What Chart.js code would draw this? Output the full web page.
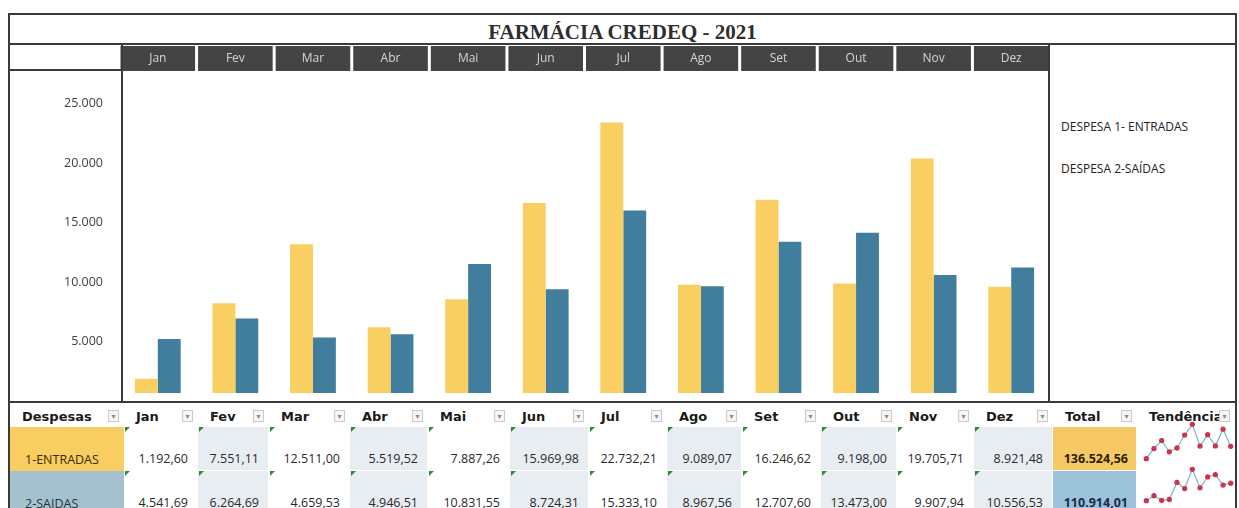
<!DOCTYPE html>
<html><head><meta charset="utf-8">
<script src="https://cdn.jsdelivr.net/npm/chart.js@4.4.1/dist/chart.umd.min.js"></script>
<style>
html,body{margin:0;padding:0;background:#fff;}
body{width:1239px;height:508px;position:relative;overflow:hidden;font-family:"Open Sans",sans-serif;}
.ln{position:absolute;background:#3a3a3a;}
#title{position:absolute;left:8px;width:1229px;top:19px;height:26px;text-align:center;font-family:"Liberation Serif","DejaVu Serif",serif;font-weight:bold;font-size:21px;color:#2e2e2e;line-height:26px;}
#main{position:absolute;left:8px;top:45px;}
.leg{position:absolute;left:1061px;font-size:12px;color:#222;line-height:16px;white-space:nowrap;}
.cell{position:absolute;box-sizing:border-box;display:flex;overflow:hidden;white-space:nowrap;}
.hd{font-family:"DejaVu Sans",sans-serif;font-weight:bold;font-size:13px;color:#1a1a1a;align-items:center;padding-left:12px;padding-top:2px;background:#fff;}
.dd{position:absolute;width:11px;height:12px;border:1px solid #c9c9c9;background:#f6f6f6;color:#888;font-size:8px;line-height:12px;text-align:center;box-sizing:border-box;font-family:"DejaVu Sans",sans-serif;}
.val{font-size:12.5px;color:#2a2a2a;align-items:flex-end;justify-content:flex-end;padding-right:9px;padding-bottom:3px;line-height:17px;border-right:1px solid #fff;border-bottom:1px solid #fff;}
.lab{font-size:12.5px;align-items:flex-end;padding-left:15px;padding-bottom:3px;line-height:17px;}
.tot{font-weight:bold;}
.tri{position:absolute;width:0;height:0;border-top:5px solid #2f8a3a;border-right:5px solid transparent;}
.spark{position:absolute;z-index:5;}
</style>
</head><body>
<div id="title">FARMÁCIA CREDEQ - 2021</div>
<canvas id="main" width="1042" height="358"></canvas>
<div id="legend"></div>
<div id="table"></div>
<canvas id="sp1" class="spark" width="95" height="45" style="left:1141px;top:419px;width:95px;height:45px;"></canvas>
<canvas id="sp2" class="spark" width="95" height="42" style="left:1141px;top:464px;width:95px;height:42px;"></canvas>

<script>
// ---------- data ----------
const months = ["Jan","Fev","Mar","Abr","Mai","Jun","Jul","Ago","Set","Out","Nov","Dez"];
const entradas = [1192.60, 7551.11, 12511.00, 5519.52, 7887.26, 15969.98, 22732.21, 9089.07, 16246.62, 9198.00, 19705.71, 8921.48];
const saidas = [4541.69, 6264.69, 4659.53, 4946.51, 10831.55, 8724.31, 15333.10, 8967.56, 12707.60, 13473.00, 9907.94, 10556.53];
const seriesLegend = ["DESPESA 1- ENTRADAS", "DESPESA 2-SAÍDAS"];
const rowLabels = ["1-ENTRADAS", "2-SAIDAS"];
const yTicks = [5000, 10000, 15000, 20000, 25000];

// ---------- helpers ----------
function fmtInt(v){ return String(Math.round(v)).replace(/\B(?=(\d{3})+(?!\d))/g, "."); }
function fmtDec(v){
  const s = v.toFixed(2).split(".");
  return s[0].replace(/\B(?=(\d{3})+(?!\d))/g, ".") + "," + s[1];
}
const YEL = "#f8cf60", BLU = "#417d9c";

// ---------- frame lines ----------
function line(x,y,w,h){ const d=document.createElement("div"); d.className="ln"; d.style.cssText=`left:${x}px;top:${y}px;width:${w}px;height:${h}px`; document.body.appendChild(d); }

// ---------- main chart ----------
const headerBg = {
  id: "headerBg",
  beforeDraw(chart){
    const xs = chart.scales.x, ctx = chart.ctx;
    const step = (xs.right - xs.left) / months.length;
    ctx.save();
    ctx.fillStyle = "#444444";
    months.forEach((m,i)=>{
      const c = xs.getPixelForValue(i);
      ctx.fillRect(c - step/2 + 1.5, xs.top + 1, step - 3, xs.bottom - xs.top - 1);
    });
    ctx.restore();
  }
};
new Chart(document.getElementById("main"), {
  type: "bar",
  data: {
    labels: months,
    datasets: [
      { label: seriesLegend[0], data: entradas, backgroundColor: YEL, borderWidth: 0, categoryPercentage: 0.59, barPercentage: 1 },
      { label: seriesLegend[1], data: saidas, backgroundColor: BLU, borderWidth: 0, categoryPercentage: 0.59, barPercentage: 1 }
    ]
  },
  options: {
    responsive: false, animation: false, devicePixelRatio: 1,
    layout: { padding: { top: 0, bottom: 10, left: 0, right: 0 } },
    plugins: { legend: { display: false }, tooltip: { enabled: false }, title: { display: false } },
    scales: {
      x: {
        position: "top",
        afterFit: s => { s.height = 26; s.paddingLeft = 0; s.paddingRight = 0; },
        grid: { display: false, drawTicks: false },
        border: { display: false },
        ticks: { color: "#d4d4d4", padding: 5, font: { family: "Open Sans", size: 12 } }
      },
      y: {
        min: 0, max: 27060,
        afterFit: s => { s.width = 111; s.paddingTop = 0; s.paddingBottom = 0; },
        afterBuildTicks: s => { s.ticks = yTicks.map(v => ({ value: v })); },
        grid: { display: false, drawTicks: false },
        border: { display: false },
        ticks: { color: "#404040", padding: 16, labelOffset: 8, font: { family: "Open Sans", size: 12.5 }, callback: v => fmtInt(v) }
      }
    }
  },
  plugins: [headerBg]
});

// ---------- legend text ----------
const leg = document.getElementById("legend");
seriesLegend.forEach((t,i)=>{
  const d = document.createElement("div"); d.className = "leg";
  d.style.top = (119 + i*42) + "px"; d.textContent = t; leg.appendChild(d);
});

// ---------- frame ----------
line(8,13,1229,2);      // top
line(8,13,2,495);       // left
line(1235,13,2,495);    // right
line(8,43,1229,2);      // under title
line(8,69,115,2);       // under blank header cell
line(121,44,2,359);     // y label column
line(1048,44,2,359);    // plot | legend
line(8,401,1229,2);     // bottom of chart

// ---------- table ----------
const colX = [10,124,198,269,350,428,510,589,667,742,821,897,974,1053,1137,1235];
const tbl = document.getElementById("table");
function cell(cls, x, y, w, h, text, style){
  const d = document.createElement("div"); d.className = "cell " + cls;
  d.style.cssText = `left:${x}px;top:${y}px;width:${w}px;height:${h}px;` + (style||"");
  if (text !== null) { const s=document.createElement("span"); s.textContent = text; d.appendChild(s); }
  tbl.appendChild(d); return d;
}
function dropdown(xr, y){
  const d = document.createElement("div"); d.className = "dd";
  d.style.left = (xr - 16) + "px"; d.style.top = y + "px"; d.textContent = "▾"; tbl.appendChild(d);
}
const headers = ["Despesas"].concat(months, ["Total","Tendência"]);
const HY = 404, HH = 23, R1 = 427, R2 = 471, RH = 44;
headers.forEach((h,i)=>{
  const x = colX[i], w = colX[i+1]-colX[i];
  cell("hd", x, HY, w, HH, h);
  dropdown(colX[i+1], HY+6);
});
cell("lab", colX[0], R1, colX[1]-colX[0], RH, rowLabels[0], "background:#f8cd62;color:#3a2c00;");
cell("lab", colX[0], R2, colX[1]-colX[0], RH, rowLabels[1], "background:#a3c2cd;color:#26363f;");
[entradas, saidas].forEach((arr, r)=>{
  const y = r===0 ? R1 : R2;
  arr.forEach((v,i)=>{
    const x = colX[i+1], w = colX[i+2]-colX[i+1];
    const bg = (i % 2 === 1) ? "#e8edf1" : "#ffffff";
    cell("val", x, y, w, RH, fmtDec(v), `background:${bg};`);
    const t = document.createElement("div"); t.className = "tri";
    t.style.left = (x+1) + "px"; t.style.top = (y) + "px"; tbl.appendChild(t);
  });
  const tot = arr.reduce((a,b)=>a+b,0);
  cell("val tot", colX[13], y, colX[14]-colX[13], RH, fmtDec(tot),
       r===0 ? "background:#f7c965;color:#2a2100;padding-right:8px;" : "background:#9cc3d9;color:#1b2c48;padding-right:8px;");
});

// ---------- sparklines ----------
function spark(id, arr){
  new Chart(document.getElementById(id), {
    type: "line",
    data: { labels: months, datasets: [{ data: arr, borderColor: "#86b6d6", borderWidth: 1.3, clip: false,
      pointBackgroundColor: "#c9354c", pointBorderColor: "#c9354c", pointRadius: 2, tension: 0 }] },
    options: { responsive: false, animation: false, devicePixelRatio: 1,
      layout: { padding: 4 },
      plugins: { legend: { display: false }, tooltip: { enabled: false } },
      scales: { x: { display: false }, y: { display: false, min: Math.min(...arr), max: Math.max(...arr) } } }
  });
}
spark("sp1", entradas);
spark("sp2", saidas);
</script>
</body></html>
